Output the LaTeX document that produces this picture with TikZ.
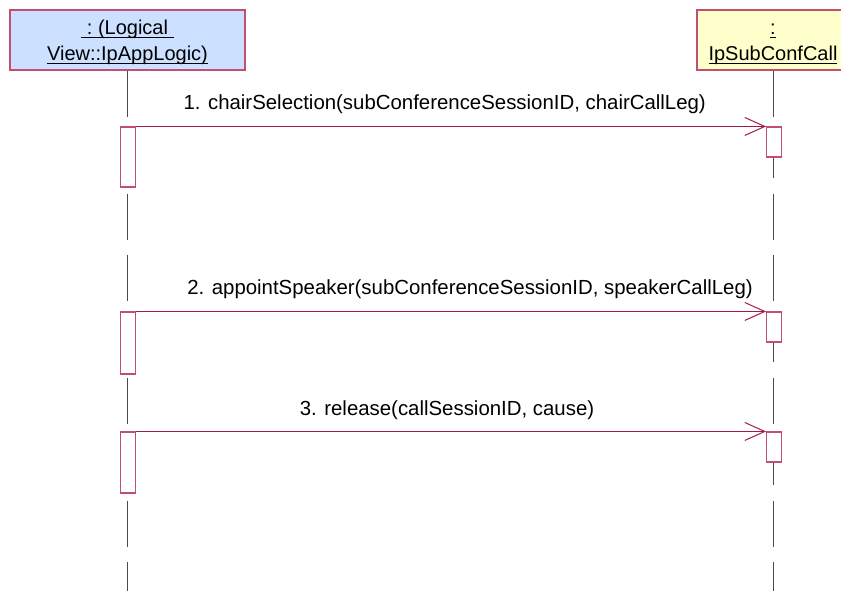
\documentclass[tikz,border=0pt]{standalone}
\usepackage{fontspec}
\setmainfont{Liberation Sans}
\usetikzlibrary{arrows.meta}
\definecolor{wine}{HTML}{A3184B}
\definecolor{rim}{HTML}{C0506E}
\definecolor{skyfill}{HTML}{CCE0FF}
\definecolor{creamfill}{HTML}{FFFFCC}
\definecolor{stem}{HTML}{4A4A4A}
% underline at a fixed depth, descenders ignored
\newcommand{\undl}[1]{\underline{\raisebox{0pt}[\height][0pt]{#1}}}
\newcommand{\headstrut}{\rule{0pt}{13.9pt}}
\tikzset{>={Straight Barb[length=15pt,width=13.5pt]},
  objbox/.style={draw=rim,line width=0.9pt,inner sep=0pt,minimum height=45pt,
    align=center,font=\fontsize{15}{19.5}\selectfont},
  lifeline/.style={draw=stem,line width=0.8pt,dash pattern=on 34.5pt off 11.6pt},
  actbox/.style={draw=rim,fill=white,line width=0.8pt,inner sep=0pt,minimum width=11.25pt},
  msg/.style={draw=wine,line width=0.75pt,->},
  msglab/.style={anchor=base,inner sep=0pt,font=\fontsize{15.3}{18}\selectfont}}

\begin{document}
\begin{tikzpicture}[x=0.75pt,y=-0.75pt]
  \useasboundingbox (0,0) rectangle (841,591);
  % objects
  \node[objbox,fill=skyfill,minimum width=176.25pt] (logic) at (127.5,40)
    {\headstrut\undl{\ :\ (Logical\ }\\\undl{View::IpAppLogic)}};
  \node[objbox,fill=creamfill,minimum width=114pt] (subcall) at (773,40)
    {\headstrut\undl{:}\\\undl{IpSubConfCall}};
  \coordinate (logicEnd) at (127.5,600);
  \coordinate (subcallEnd) at (773.5,600);
  \draw[lifeline] (logic.south) -- (logicEnd);
  \draw[lifeline] ([xshift=0.375pt]subcall.south) -- (subcallEnd);
  % activations
  \node[actbox,minimum height=45pt] (a1) at (128,157) {};
  \node[actbox,minimum height=46.5pt] (a2) at (128,343) {};
  \node[actbox,minimum height=45.75pt] (a3) at (128,462.5) {};
  \node[actbox,minimum height=22.5pt] (b1) at (774,142) {};
  \node[actbox,minimum height=22.5pt] (b2) at (774,327) {};
  \node[actbox,minimum height=22.5pt] (b3) at (774,447) {};
  % messages
  \draw[msg] (a1.north east) -- (b1.north west);
  \draw[msg] (a2.north east) -- (b2.north west);
  \draw[msg] (a3.north east) -- (b3.north west);
  \node[msglab] (m1) at (444.7,110) {1. chairSelection(subConferenceSessionID, chairCallLeg)};
  \node[msglab] (m2) at (470,295) {2. appointSpeaker(subConferenceSessionID, speakerCallLeg)};
  \node[msglab] (m3) at (447,415) {3. release(callSessionID, cause)};
\end{tikzpicture}
\end{document}
